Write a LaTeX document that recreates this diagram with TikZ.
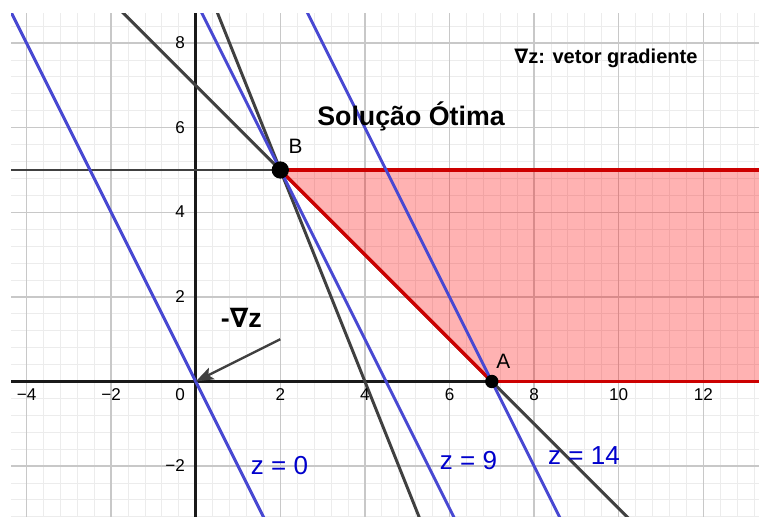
\documentclass[tikz,border=0pt]{standalone}
\usepackage{fontspec}
\setmainfont{Liberation Sans}
\newfontfamily\dejavu{DejaVu Sans}
\usetikzlibrary{arrows.meta}
\definecolor{gridmajor}{RGB}{200,200,200}
\definecolor{gridminor}{RGB}{236,236,236}
\definecolor{cline}{RGB}{64,64,64}
\definecolor{zline}{RGB}{72,72,210}
\definecolor{zlabel}{RGB}{0,0,204}
\definecolor{rline}{RGB}{204,0,0}
\definecolor{rfill}{RGB}{255,0,0}
\begin{document}
\begin{tikzpicture}[x=1cm,y=1cm,
  minorgrid/.style={draw=gridminor, line width=0.6pt},
  majorgrid/.style={draw=gridmajor, line width=0.9pt},
  axisline/.style={draw=black!90, line width=1.7pt},
  constraint/.style={draw=cline, line width=2pt},
  objline/.style={draw=zline, line width=2pt},
  boundary/.style={draw=rline, line width=2.3pt},
  region/.style={fill=rfill, fill opacity=0.3},
  ticklabel/.style={font=\fontsize{11.5}{13}\selectfont, text=black, inner sep=0pt},
  zlab/.style={font=\fontsize{17.5}{20}\selectfont, text=zlabel, inner sep=0pt},
  vertex/.style={circle, fill=black, inner sep=0pt},
  ptlabel/.style={font=\fontsize{14}{16}\selectfont, inner sep=0pt},
  boldlabel/.style={font=\bfseries, inner sep=0pt},
  gradarrow/.style={draw=cline, line width=1.6pt, -{Stealth[length=12pt,width=8.5pt,inset=2.5pt]}},
  ]
\coordinate (BL) at (-4.627,-3.203);
\coordinate (TR) at (13.317,9.019);
\coordinate (PL) at (-4.366,-3.203);
\coordinate (PT) at (13.317,8.71);
\useasboundingbox (BL) rectangle (TR);
% key points
\coordinate (O) at (0,0);
\coordinate (A) at (7,0);
\coordinate (B) at (2,5);
\coordinate (G) at (2,1);
% line end points (clipped)
\coordinate (c1a) at (-3,10);  \coordinate (c1b) at (12,-5);
\coordinate (c2a) at (0,10);   \coordinate (c2b) at (6,-5);
\coordinate (z0a) at (-5,10);  \coordinate (z0b) at (2.5,-5);
\coordinate (z9a) at (-0.5,10); \coordinate (z9b) at (7,-5);
\coordinate (z14a) at (2,10);  \coordinate (z14b) at (9.5,-5);
\coordinate (hL) at (-5,5);    \coordinate (hR) at (14,5);
\coordinate (xL) at (-5,0);    \coordinate (xR) at (14,0);
\coordinate (yB) at (0,-4);    \coordinate (yT) at (0,10);
\begin{scope}
\clip (PL) rectangle (PT);
\fill[white] (PL) rectangle (PT);
\draw[minorgrid, step=0.4] (PL) grid (PT);
\draw[majorgrid, step=2] (PL) grid (PT);
\fill[region] (B) -- (hR) -- (xR) -- (A) -- cycle;
\draw[axisline] (xL) -- (xR);
\draw[axisline] (yB) -- (yT);
\draw[constraint] (c1a) -- (c1b);
\draw[constraint] (c2a) -- (c2b);
\draw[constraint] (hL) -- (B);
\draw[boundary] (B) -- (hR);
\draw[boundary] (A) -- (xR);
\draw[boundary] (B) -- (A);
\draw[objline] (z0a) -- (z0b);
\draw[objline] (z9a) -- (z9b);
\draw[objline] (z14a) -- (z14b);
\end{scope}
\draw[gradarrow] (G) -- (O);
\node[vertex, minimum size=11.6pt] (Bpt) at (B) {};
\node[vertex, minimum size=9pt] (Apt) at (A) {};
% tick labels
\foreach \x/\t in {-4/−4,-2/−2,2/2,4/4,6/6,8/8,10/10,12/12}
  \node[ticklabel, anchor=base] (tx\x) at (\x,-0.46) {\t};
\node[ticklabel, anchor=base east] (t0) at (-0.25,-0.46) {0};
\foreach \y/\t in {8/8,6/6,4/4,2/2,-2/−2}
  \node[ticklabel, anchor=base east] (ty\y) at (-0.25,\y-0.13) {\t};
% labels
\node[ptlabel, anchor=base] (labB) at (2.36,5.38) {B};
\node[ptlabel, anchor=base] (labA) at (7.27,0.31) {A};
\node[boldlabel, anchor=base, font=\fontsize{18}{21}\selectfont\bfseries] (opt) at (5.09,6.06) {Solução Ótima};
\node[boldlabel, anchor=base, font=\fontsize{13.5}{16}\selectfont\bfseries] (legend) at (9.70,7.51) {{\dejavu ∇}z: vetor gradiente};
\node[boldlabel, anchor=base, font=\fontsize{18}{21}\selectfont\bfseries] (ngrad) at (1.08,1.265) {-{\dejavu ∇}z};
\node[zlab, anchor=base] (lz0) at (1.98,-2.19) {z = 0};
\node[zlab, anchor=base] (lz9) at (6.45,-2.08) {z = 9};
\node[zlab, anchor=base] (lz14) at (9.18,-1.97) {z = 14};
\end{tikzpicture}
\end{document}
